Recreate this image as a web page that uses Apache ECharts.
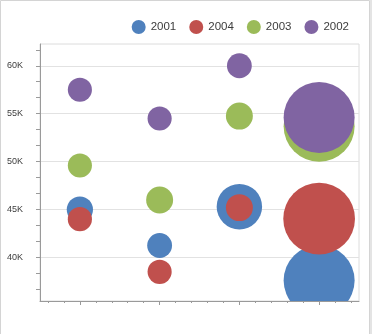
<!DOCTYPE html>
<html>
<head>
<meta charset="utf-8">
<script src="https://cdn.jsdelivr.net/npm/echarts@6/dist/echarts.min.js"></script>
<style>
html,body{margin:0;padding:0;background:#fff;}
#chart{width:373px;height:334px;}
</style>
</head>
<body>
<div id="chart"></div>
<script>
// ---- data ----
const seriesNames = ['2001', '2004', '2003', '2002'];
const colors = ['#4F81BD', '#C0504D', '#9BBB59', '#8064A2'];
const xPositions = [1, 2, 3, 4];
const values2001 = [45000, 41250, 45300, 37600];
const weights2001 = [3.7, 3.5, 6.4, 10.0];
const values2004 = [44000, 38500, 45200, 44050];
const weights2004 = [3.4, 3.4, 3.8, 10.1];
const values2003 = [49600, 46000, 54750, 53700];
const weights2003 = [3.4, 3.8, 3.8, 10.0];
const values2002 = [57500, 54500, 60000, 54600];
const weights2002 = [3.4, 3.4, 3.5, 10.0];
const yTickValues = [40000, 45000, 50000, 55000, 60000];
const yMinorTickValues = [36667, 38333, 40000, 41667, 43333, 45000, 46667, 48333, 50000,
  51667, 53333, 55000, 56667, 58333, 60000, 61667];
const xTickValues = [1, 2, 3, 4];
const xMinorTickValues = [0.6, 0.8, 1.2, 1.4, 1.6, 1.8, 2.2, 2.4, 2.6, 2.8,
  3.2, 3.4, 3.6, 3.8, 4.2, 4.4];

const allValues = [values2001, values2004, values2003, values2002];
const allWeights = [weights2001, weights2004, weights2003, weights2002];

const SIZE_SCALE = 7.1; // px of diameter per weight unit

const chart = echarts.init(document.getElementById('chart'), null, {renderer: 'canvas'});

const series = seriesNames.map((name, i) => ({
  name: name,
  type: 'custom',
  clip: true,
  xAxisIndex: 0,
  yAxisIndex: 0,
  itemStyle: {color: colors[i]},
  data: xPositions.map((x, j) => [x, allValues[i][j], allWeights[i][j]]),
  renderItem: function (params, api) {
    const p = api.coord([api.value(0), api.value(1)]);
    const r = api.value(2) * SIZE_SCALE / 2;
    return {
      type: 'circle',
      shape: {cx: p[0], cy: p[1], r: r},
      style: {fill: api.visual('color')}
    };
  }
}));

const axisFont = {fontFamily: 'Liberation Sans', fontSize: 9, color: '#3c3c3c'};

chart.setOption({
  animation: false,
  backgroundColor: '#fff',
  graphic: [
    {type: 'rect', shape: {x: 0.5, y: 0.5, width: 369, height: 345},
     style: {fill: 'none', stroke: '#d4d4d4', lineWidth: 1}, silent: true},
    {type: 'line', shape: {x1: 371, y1: 0, x2: 371, y2: 334},
     style: {stroke: '#e4e4e4', lineWidth: 2}, silent: true}
  ],
  legend: {
    top: 15,
    right: 19,
    icon: 'circle',
    itemWidth: 14,
    itemHeight: 14,
    itemGap: 13,
    textStyle: {fontFamily: 'Liberation Sans', fontSize: 11.5, color: '#3c3c3c'},
    data: seriesNames
  },
  grid: {
    left: 40, right: 14, top: 44, bottom: 33,
    show: true, borderColor: '#dcdcdc', borderWidth: 1, backgroundColor: '#fff'
  },
  xAxis: [
    {
      type: 'value', min: 0.5, max: 4.5, position: 'bottom',
      axisLine: {show: true, lineStyle: {color: '#9a9a9a'}},
      axisTick: {show: true, length: 4, customValues: xTickValues, lineStyle: {color: '#9a9a9a'}},
      axisLabel: {show: false},
      splitLine: {show: false}
    },
    {
      type: 'value', min: 0.5, max: 4.5, position: 'bottom', offset: 0,
      axisLine: {show: false},
      axisTick: {show: true, length: 2, customValues: xMinorTickValues, lineStyle: {color: '#9a9a9a'}},
      axisLabel: {show: false},
      splitLine: {show: false}
    }
  ],
  yAxis: [
    {
      type: 'value', min: 35460, max: 62270, position: 'left',
      axisLine: {show: true, lineStyle: {color: '#9a9a9a'}},
      axisTick: {show: false, customValues: yTickValues},
      axisLabel: Object.assign({
        margin: 17,
        customValues: yTickValues,
        formatter: v => (v / 1000) + 'K'
      }, axisFont),
      splitLine: {show: true, lineStyle: {color: '#e2e2e2'}}
    },
    {
      type: 'value', min: 35460, max: 62270, position: 'left', offset: 0,
      axisLine: {show: false},
      axisTick: {show: true, length: 4, customValues: yMinorTickValues, lineStyle: {color: '#9a9a9a'}},
      axisLabel: {show: false},
      splitLine: {show: false}
    }
  ],
  series: series
});
</script>
</body>
</html>
